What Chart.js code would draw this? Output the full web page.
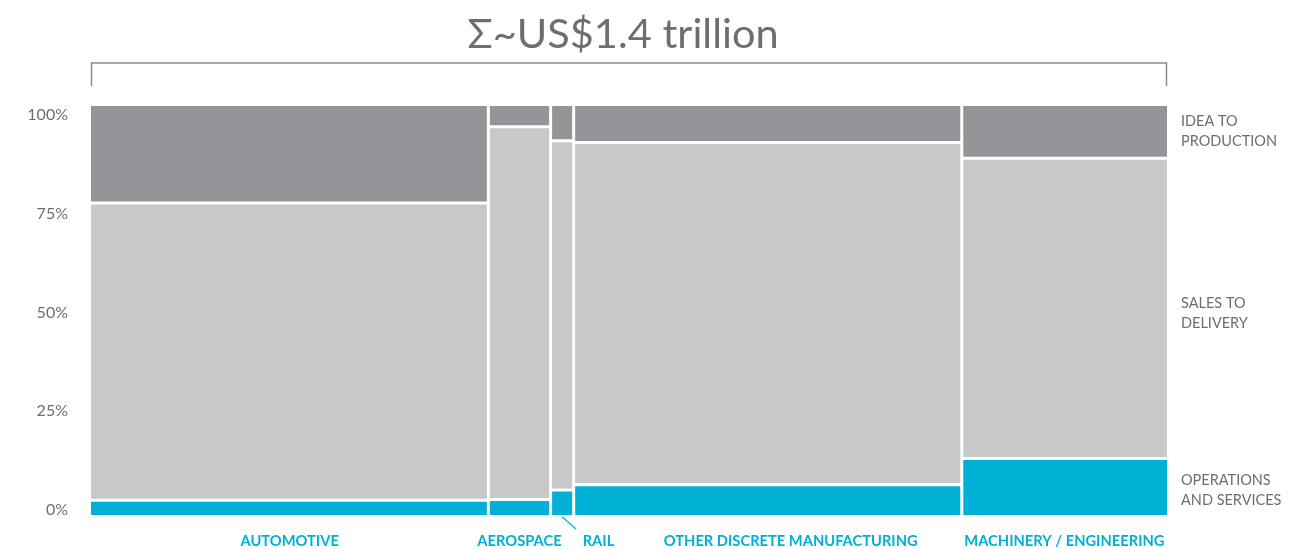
<!DOCTYPE html>
<html>
<head>
<meta charset="utf-8">
<script src="https://cdn.jsdelivr.net/npm/chart.js@4/dist/chart.umd.min.js"></script>
<style>
  body { margin: 0; background: #fff; }
  #wrap { width: 1309px; height: 549px; position: relative; }
</style>
</head>
<body>
<div id="wrap"><canvas id="chart"></canvas></div>
<script>
// market size per industry (US$ bn, total ~1.4 trillion) and the split of each column in %
const categories = ['AUTOMOTIVE', 'AEROSPACE', 'RAIL', 'OTHER DISCRETE MANUFACTURING', 'MACHINERY / ENGINEERING'];
const marketSize = [517, 81, 30, 505, 267];
const operations = [3.6, 3.8, 6.1, 7.4, 13.8];
const salesToDelivery = [72.7, 91.1, 85.4, 83.7, 73.4];
const ideaToProduction = [23.7, 5.1, 8.5, 8.9, 12.8];
const segmentLabels = [['OPERATIONS', 'AND SERVICES'], ['SALES TO', 'DELIVERY'], ['IDEA TO', 'PRODUCTION']];
const yTicks = [0, 25, 50, 75, 100];
const title = 'Σ~US$1.4 trillion';

const colors = ['#00b0d5', '#c7c8ca', '#939598'];
const segments = [operations, salesToDelivery, ideaToProduction];
const total = marketSize.reduce((a, b) => a + b, 0);

// build rectangles as filled lines, plus white separators on top
const datasets = [];
const columns = [];
let start = 0;
marketSize.forEach((size, i) => {
    const x0 = start, x1 = start + size;
    let bottom = 0;
    const cuts = [];
    segments.forEach((seg, k) => {
        const top = bottom + seg[i];
        datasets.push({
            data: [{ x: x0, y: top }, { x: x1, y: top }],
            fill: { value: bottom },
            backgroundColor: colors[k],
            borderWidth: 0,
            pointRadius: 0,
            order: 1
        });
        cuts.push([bottom, top]);
        bottom = top;
    });
    // horizontal separators
    cuts.slice(0, 2).forEach(c => {
        datasets.push({
            data: [{ x: x0, y: c[1] }, { x: x1, y: c[1] }],
            borderColor: '#fff', borderWidth: 3, pointRadius: 0, fill: false, order: 0
        });
    });
    // vertical separator at right edge of the column
    if (i < marketSize.length - 1) {
        datasets.push({
            data: [{ x: x1, y: 0 }, { x: x1, y: 100 }],
            borderColor: '#fff', borderWidth: 3, pointRadius: 0, fill: false, order: 0
        });
    }
    columns.push({ x0, x1, cuts });
    start = x1;
});

const labelsPlugin = {
    id: 'labels',
    afterDraw(chart) {
        const ctx = chart.ctx;
        const xs = chart.scales.x, ys = chart.scales.y;
        const area = chart.chartArea;
        ctx.save();

        // title + bracket
        ctx.fillStyle = '#6d6e71';
        ctx.font = '41.5px Lato';
        ctx.textAlign = 'center';
        ctx.textBaseline = 'middle';
        ctx.fillText(title, 623, 35);
        ctx.strokeStyle = '#8a8a8c';
        ctx.lineWidth = 1.5;
        ctx.beginPath();
        ctx.moveTo(area.left + 0.5, 86);
        ctx.lineTo(area.left + 0.5, 63);
        ctx.lineTo(area.right - 0.5, 63);
        ctx.lineTo(area.right - 0.5, 86);
        ctx.stroke();

        // category labels
        ctx.font = 'bold 14.7px Lato';
        ctx.fillStyle = '#00b0d5';
        columns.forEach((c, i) => {
            const mid = xs.getPixelForValue((c.x0 + c.x1) / 2);
            if (categories[i] === 'RAIL') {
                ctx.textAlign = 'left';
                ctx.fillText(categories[i], xs.getPixelForValue(c.x1) + 9, 541);
                ctx.strokeStyle = '#00b0d5';
                ctx.lineWidth = 1.2;
                ctx.beginPath();
                ctx.moveTo(mid, area.bottom + 2);
                ctx.lineTo(mid + 14, area.bottom + 14);
                ctx.stroke();
            } else {
                ctx.textAlign = 'center';
                const shift = categories[i].startsWith('OTHER') ? 23 : 0;
                ctx.fillText(categories[i], mid + shift, 541);
            }
        });

        // segment labels on the right, roughly centred on the last column's segments
        const last = columns[columns.length - 1];
        const nudge = [4, 5, -1];
        ctx.font = '14.5px Lato';
        ctx.fillStyle = '#6d6e71';
        ctx.textAlign = 'left';
        segmentLabels.forEach((lines, k) => {
            const cy = (ys.getPixelForValue(last.cuts[k][0]) + ys.getPixelForValue(last.cuts[k][1])) / 2;
            lines.forEach((t, j) => ctx.fillText(t, area.right + 14, cy - 10 + j * 20 + nudge[k]));
        });
        ctx.restore();
    }
};

new Chart(document.querySelector('#chart').getContext('2d'), {
    type: 'line',
    data: { datasets },
    options: {
        responsive: true,
        maintainAspectRatio: false,
        animation: false,
        events: [],
        layout: { padding: { left: 0, right: 142, top: 106, bottom: 34 } },
        plugins: { legend: { display: false }, tooltip: { enabled: false } },
        scales: {
            x: { type: 'linear', min: 0, max: total, display: false },
            y: { type: 'linear', min: 0, max: 100, display: false },
            yLabels: {
                type: 'linear',
                position: 'left',
                min: -1.27,
                max: 102.28,
                border: { display: false },
                grid: { display: false, drawTicks: false },
                afterBuildTicks: scale => { scale.ticks = yTicks.map(v => ({ value: v })); },
                afterFit: scale => { scale.width = 91; },
                ticks: {
                    padding: 23,
                    color: '#6d6e71',
                    font: { family: 'Lato', size: 16 },
                    callback: v => v + '%'
                }
            }
        }
    },
    plugins: [labelsPlugin]
});
</script>
</body>
</html>
